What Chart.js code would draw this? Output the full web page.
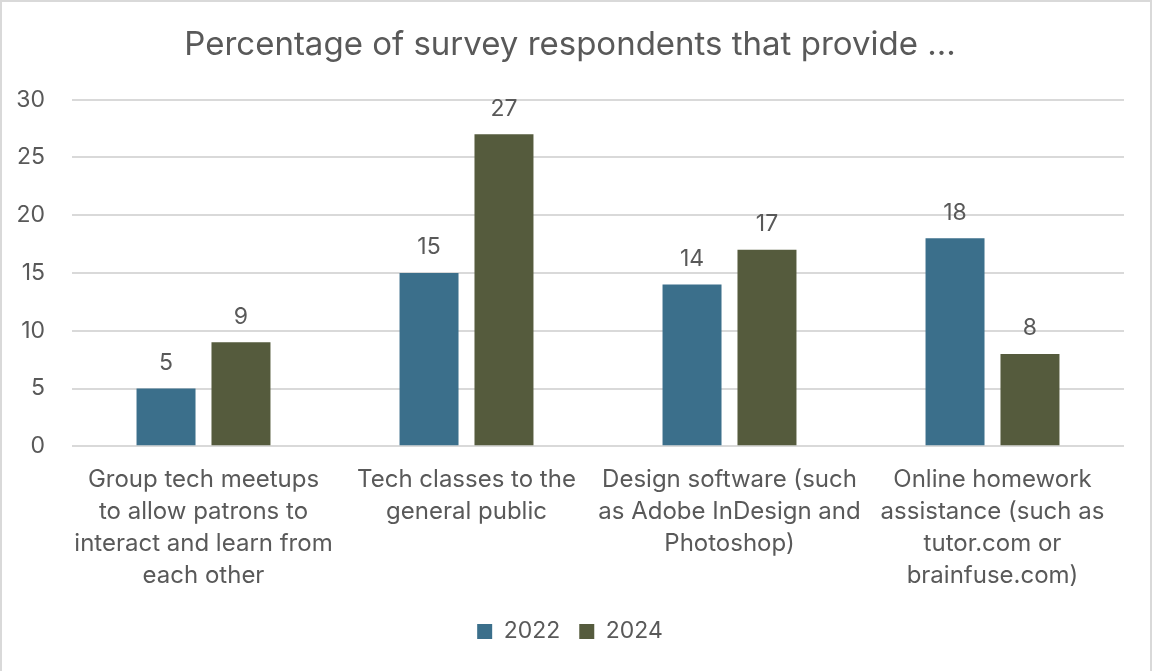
<!DOCTYPE html>
<html>
<head>
<meta charset="utf-8">
<script src="https://cdn.jsdelivr.net/npm/chart.js@4"></script>
<style>
	body { margin: 0; background: #fff; }
	.wrap { width: 1152px; height: 671px; box-sizing: border-box; border: 2px solid #d9d9d9; border-bottom: none; }
</style>
</head>
<body>
<div class="wrap"><canvas id="survey-chart"></canvas></div>
<script>
let categoryLabels = [
	["Group tech meetups", "to allow patrons to", "interact and learn from", "each other"],
	["Tech classes to the", "general public"],
	["Design software (such", "as Adobe InDesign and", "Photoshop)"],
	["Online homework", "assistance (such as", "tutor.com or", "brainfuse.com)"]
]
let values2022 = [5, 15, 14, 18]
let values2024 = [9, 27, 17, 8]

let textColor = "#595959"
let fontFamily = "Inter, 'Liberation Sans', sans-serif"

// draws the numbers above each bar
let barValueLabels = {
	id: 'barValueLabels',
	afterDatasetsDraw(chart) {
		let ctx = chart.ctx
		ctx.save()
		ctx.font = "23px " + fontFamily
		ctx.fillStyle = textColor
		ctx.textAlign = "center"
		ctx.textBaseline = "bottom"
		chart.data.datasets.forEach(function (ds, i) {
			chart.getDatasetMeta(i).data.forEach(function (bar, j) {
				ctx.fillText(ds.data[j], bar.x, bar.y - 14)
			})
		})
		ctx.restore()
	}
}

let surveyChart = new Chart(document.getElementById("survey-chart").getContext('2d'), {
	type: 'bar',
	data: {
		labels: categoryLabels,
		datasets: [
			{
				label: '2022',
				data: values2022,
				backgroundColor: "#3b6f8b",
				categoryPercentage: 0.57,
				barPercentage: 0.787
			},
			{
				label: '2024',
				data: values2024,
				backgroundColor: "#555b3d",
				categoryPercentage: 0.57,
				barPercentage: 0.787
			}
		]
	},
	plugins: [barValueLabels],
	options: {
		responsive: true,
		maintainAspectRatio: false,
		animation: false,
		layout: {
			padding: { left: 14, right: 26, top: 0, bottom: 18 }
		},
		scales: {
			y: {
				min: 0,
				max: 30,
				// keep the axis as narrow as its labels
				afterFit: function (scale) {
					scale.width = 56
				},
				ticks: {
					stepSize: 5,
					color: textColor,
					padding: 27,
					font: { family: fontFamily, size: 23 }
				},
				grid: {
					color: "#d9d9d9",
					lineWidth: 2,
					drawTicks: false
				},
				border: { display: false }
			},
			x: {
				// long wrapped labels should not push the plot inwards
				afterFit: function (scale) {
					scale.paddingLeft = 0
					scale.paddingRight = 0
				},
				ticks: {
					color: textColor,
					padding: 9,
					maxRotation: 0,
					autoSkip: false,
					font: { family: fontFamily, size: 24, lineHeight: 1.34 }
				},
				grid: { display: false },
				border: { display: false }
			}
		},
		plugins: {
			title: {
				display: true,
				text: "Percentage of survey respondents that provide ...",
				color: textColor,
				font: { family: fontFamily, size: 33, weight: 'normal' },
				padding: { top: 23, bottom: 35 }
			},
			legend: {
				position: 'bottom',
				labels: {
					color: textColor,
					boxWidth: 15,
					boxHeight: 15,
					padding: 19,
					font: { family: fontFamily, size: 23 }
				}
			},
			tooltip: { enabled: false }
		}
	}
});
</script>
</body>
</html>
